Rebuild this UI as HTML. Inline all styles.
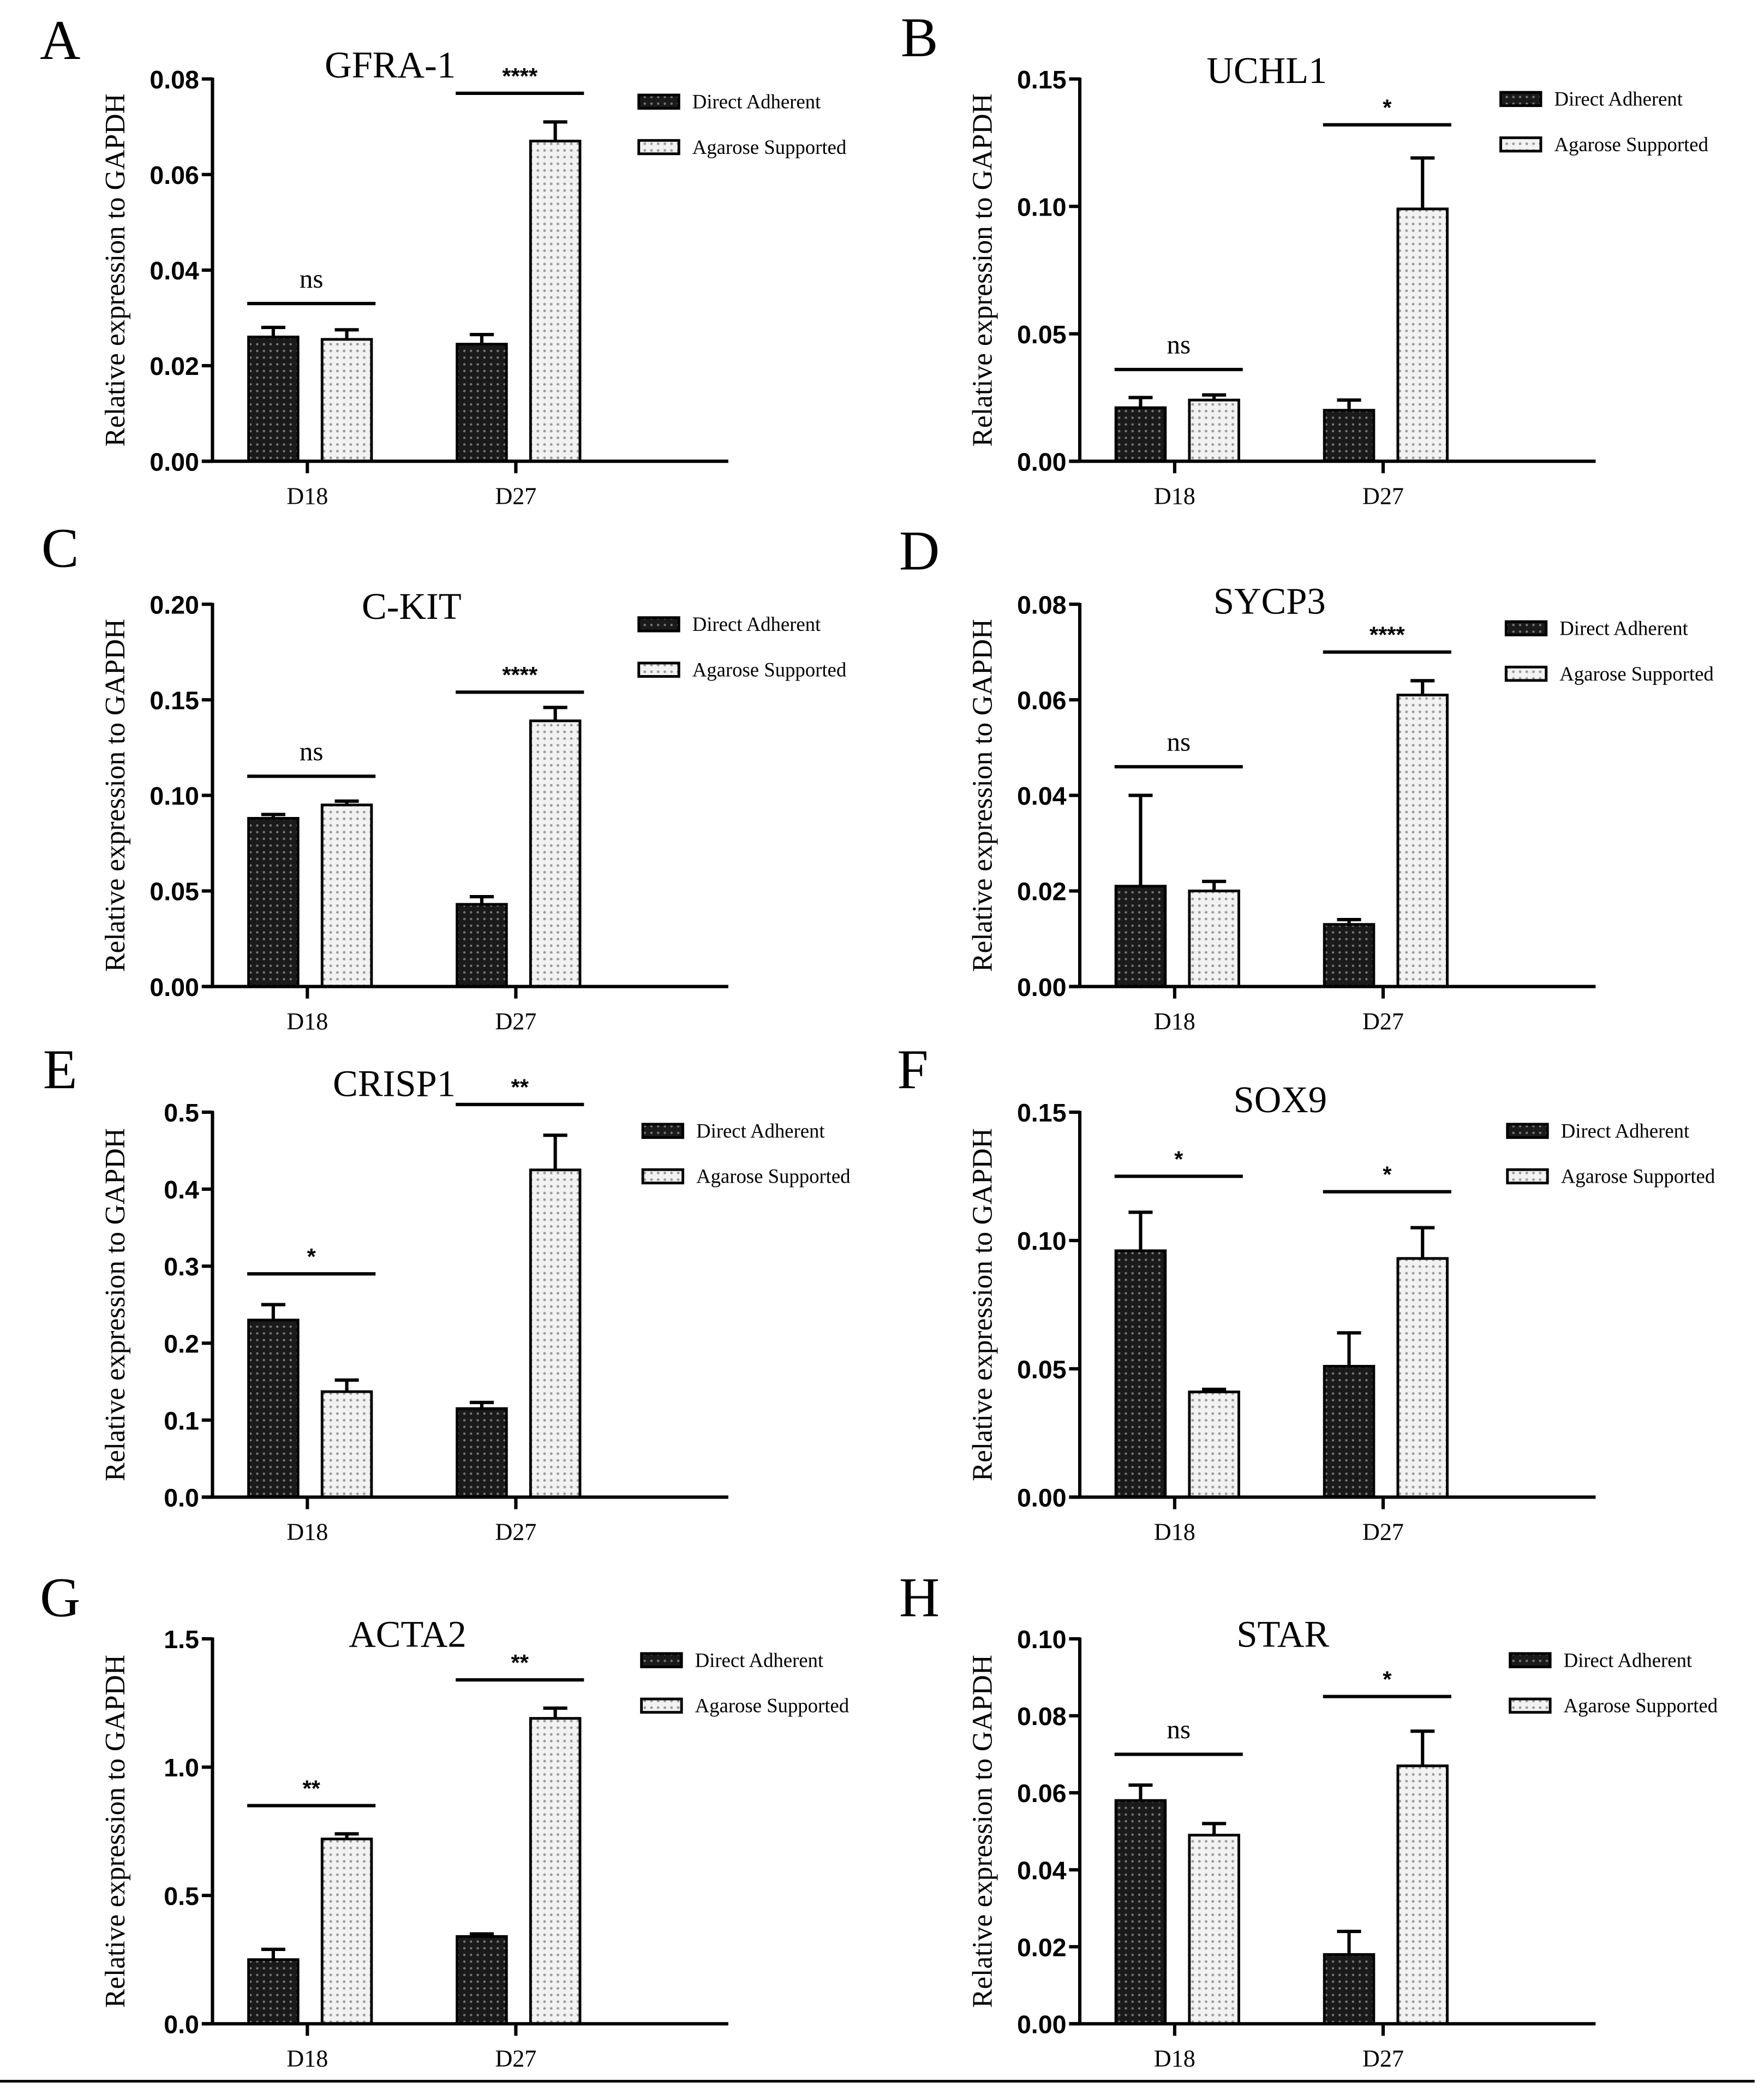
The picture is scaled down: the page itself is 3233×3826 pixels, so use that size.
<!DOCTYPE html>
<html><head><meta charset="utf-8"><style>
html,body{margin:0;padding:0;background:#fff;}
svg{display:block;}
</style></head><body>
<svg id="fig" width="3233" height="3826" viewBox="0 0 1320 1562" xmlns="http://www.w3.org/2000/svg">
<defs>
<pattern id="pd" width="5" height="5" patternUnits="userSpaceOnUse"><rect width="5" height="5" fill="#1a1a1a"/><circle cx="2.5" cy="2.5" r="0.9" fill="#777"/></pattern>
<pattern id="pl" width="5" height="5" patternUnits="userSpaceOnUse"><rect width="5" height="5" fill="#f2f2f2"/><circle cx="2.5" cy="2.5" r="1" fill="#9a9a9a"/></pattern>
</defs>
<line x1="0" y1="1557" x2="1313" y2="1557" stroke="#000" stroke-width="2"/>
</svg>
<script>
const categories = ["D18","D27"];
const panelNames = ["A","B","C","D","E","F","G","H"];
const titles = ["GFRA-1","UCHL1","C-KIT","SYCP3","CRISP1","SOX9","ACTA2","STAR"];
const daValues = [[0.026,0.0245],[0.021,0.020],[0.088,0.043],[0.021,0.013],[0.23,0.115],[0.096,0.051],[0.25,0.34],[0.058,0.018]];
const daErrors = [[0.002,0.002],[0.004,0.004],[0.002,0.004],[0.019,0.001],[0.02,0.008],[0.015,0.013],[0.04,0.01],[0.004,0.006]];
const asValues = [[0.0255,0.067],[0.024,0.099],[0.095,0.139],[0.020,0.061],[0.137,0.425],[0.041,0.093],[0.72,1.19],[0.049,0.067]];
const asErrors = [[0.002,0.004],[0.002,0.020],[0.002,0.007],[0.002,0.003],[0.015,0.045],[0.001,0.012],[0.02,0.04],[0.003,0.009]];
const sigLabels = [["ns","****"],["ns","*"],["ns","****"],["ns","****"],["*","**"],["*","*"],["**","**"],["ns","*"]];
const sigLevels = [[0.033,0.077],[0.036,0.132],[0.11,0.154],[0.046,0.070],[0.29,0.51],[0.125,0.119],[0.85,1.34],[0.070,0.085]];
const yMax = [0.08,0.15,0.20,0.08,0.5,0.15,1.5,0.10];
const yStep = [0.02,0.05,0.05,0.02,0.1,0.05,0.5,0.02];
const yDecimals = [2,2,2,2,1,2,1,2];
const legendLabels = ["Direct Adherent","Agarose Supported"];

const NS="http://www.w3.org/2000/svg";
const svg=document.getElementById('fig');
function mk(tag,attrs,parent,text){const e=document.createElementNS(NS,tag);for(const k in attrs)e.setAttribute(k,attrs[k]);if(text!==undefined)e.textContent=text;(parent||svg).appendChild(e);return e;}

const axisX=[159,808];
const rowTop=[59,452,832,1226], rowZero=[345,738,1120,1514];
const titlePos=[[292,48],[948,52],[308,453],[950,449],[295,810],[958,822],[305,1222],[960,1222]];
const letterPos=[[45,44],[688,42],[45,424],[688,426],[45,814],[683,814],[45,1209],[688,1209]];
const legendPos=[[478,76],[1123,74],[478,467],[1127,470],[481,846],[1128,846],[480,1242],[1130,1242]];

for(let p=0;p<8;p++){
  const col=p%2,row=Math.floor(p/2);
  const x0=axisX[col], top=rowTop[row], zero=rowZero[row];
  const g=mk('g',{});
  
  
  const y=v=>zero-(v/yMax[p])*(zero-top);
  const cx=i=>x0+71+i*156;
  // letter
  const L=mk('text',{x:letterPos[p][0],y:letterPos[p][1],'font-family':'Liberation Serif, serif','font-size':42,'text-anchor':'middle'},g,panelNames[p]);
  
  
  const T=mk('text',{x:titlePos[p][0],y:titlePos[p][1]+10,'font-family':'Liberation Serif, serif','font-size':28,'text-anchor':'middle'},g,titles[p]);
  
  
  // axis title
  const yt=(top+zero)/2;
  const AT=mk('text',{x:0,y:0,transform:`translate(${x0-66},${yt}) rotate(-90)`,'font-family':'Liberation Serif, serif','font-size':21,'text-anchor':'middle'},g,'Relative expression to GAPDH');
  
  
  // bars
  for(let i=0;i<2;i++){
    const c=cx(i);
    const sets=[[daValues,daErrors,'url(#pd)',c-44],[asValues,asErrors,'url(#pl)',c+11]];
    sets.forEach((s,si)=>{
      const v=s[0][p][i], e=s[1][p][i], bx=s[3], bw=37;
      const b=mk('rect',{x:bx,y:y(v),width:bw,height:zero-y(v),fill:s[2],stroke:'#000','stroke-width':2},g);
      
      
      const m=bx+bw/2;
      const eb=mk('path',{d:`M${m},${y(v)} V${y(v+e)} M${m-9},${y(v+e)} H${m+9}`,stroke:'#000','stroke-width':2.5,fill:'none'},g);
      
      
    });
    const sl=mk('line',{x1:c-45,x2:c+51,y1:y(sigLevels[p][i]),y2:y(sigLevels[p][i]),stroke:'#000','stroke-width':2.5},g);
    
    
    const isStar=sigLabels[p][i]!=='ns';
    const st=mk('text',{x:c+3,y:y(sigLevels[p][i])-(isStar?7:12),'font-family':isStar?'Liberation Sans, sans-serif':'Liberation Serif, serif','font-size':isStar?17:20,'font-weight':isStar?'bold':'normal','text-anchor':'middle'},g,sigLabels[p][i]);
    
    
    // x tick
    mk('line',{x1:c,x2:c,y1:zero,y2:zero+9,stroke:'#000','stroke-width':2.5},g);
    const xl=mk('text',{x:c,y:zero+32,'font-family':'Liberation Serif, serif','font-size':18,'text-anchor':'middle'},g,categories[i]);
    
    
  }
  // axes
  const ya=mk('line',{x1:x0,x2:x0,y1:top-1,y2:zero,stroke:'#000','stroke-width':2.5},g);
  
  
  const xa=mk('line',{x1:x0-8,x2:x0+386,y1:zero,y2:zero,stroke:'#000','stroke-width':2.5},g);
  
  
  const n=Math.round(yMax[p]/yStep[p]);
  for(let k=0;k<=n;k++){
    const v=k*yStep[p];
    mk('line',{x1:x0-8,x2:x0,y1:y(v),y2:y(v),stroke:'#000','stroke-width':2.5},g);
    const tl=mk('text',{x:x0-10,y:y(v)+7,'font-family':'Liberation Sans, sans-serif','font-size':19,'font-weight':'bold','text-anchor':'end'},g,v.toFixed(yDecimals[p]));
    
    
  }
  // legend
  for(let j=0;j<2;j++){
    const lx=legendPos[p][0], ly=legendPos[p][1]+j*34;
    const sw=mk('rect',{x:lx,y:ly-5,width:30,height:10,fill:j?'url(#pl)':'url(#pd)',stroke:'#000','stroke-width':2},g);
    
    
    const lt=mk('text',{x:lx+40,y:ly+5,'font-family':'Liberation Serif, serif','font-size':15},g,legendLabels[j]);
    
    
  }
}
</script>
</body></html>
